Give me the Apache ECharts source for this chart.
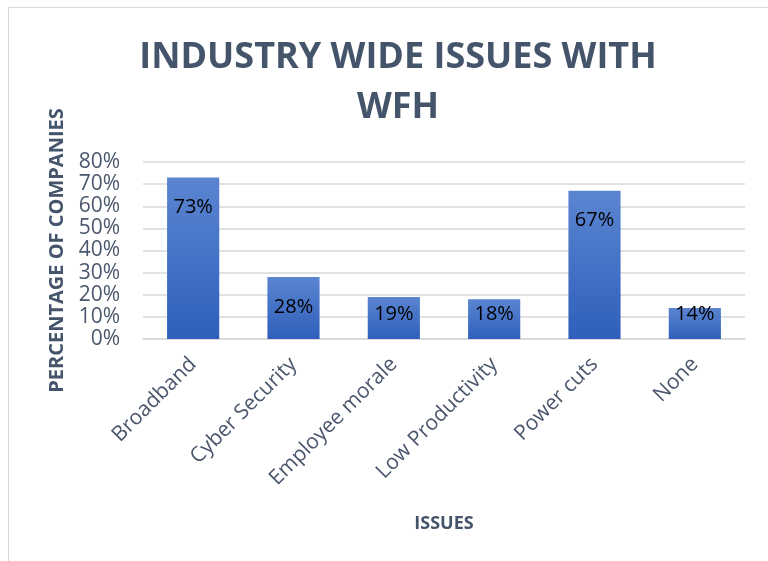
<!DOCTYPE html>
<html>
<head>
<meta charset="utf-8">
<script src="https://cdn.jsdelivr.net/npm/echarts@6/dist/echarts.min.js"></script>
<style>
  html, body { margin: 0; padding: 0; background: #fff; }
  #frame { position: absolute; left: 8px; top: 7px; width: 780px; height: 560px; border: 1px solid #d9d9d9; box-sizing: border-box; }
  #chart { width: 768px; height: 561px; position: absolute; left: 0; top: 0; }
</style>
</head>
<body>
<div id="frame"></div>
<div id="chart"></div>
<script>
  const categories = ["Broadband", "Cyber Security", "Employee morale", "Low Productivity", "Power cuts", "None"];
  const values = [73, 28, 19, 18, 67, 14];
  const yTicks = [0, 10, 20, 30, 40, 50, 60, 70, 80];

  const font = "Open Sans, Noto Sans, sans-serif";
  const chart = echarts.init(document.getElementById("chart"));

  const gridTop = 162, gridBottom = 222;
  const plotH = 561 - gridTop - gridBottom;
  const yMax = yTicks[yTicks.length - 1];
  // label sits ~18px inside the bar top, but never lower than ~25px above the axis
  const labelDistance = (v) => Math.min(20, v * plotH / yMax - 35);

  chart.setOption({
    animation: false,
    title: {
      text: "INDUSTRY WIDE ISSUES WITH\nWFH",
      left: 393,
      top: 28,
      textAlign: "center",
      textStyle: { fontFamily: font, fontWeight: "bold", fontSize: 36, color: "#44546A", lineHeight: 50 }
    },
    grid: { left: 143, right: 23, top: gridTop, bottom: gridBottom },
    xAxis: {
      type: "category",
      data: categories,
      name: "ISSUES",
      nameLocation: "middle",
      nameGap: 176,
      nameTextStyle: { fontFamily: font, fontWeight: "bold", fontSize: 18, color: "#44546A" },
      axisLine: { lineStyle: { color: "#d9d9d9", width: 1.5 } },
      axisTick: { show: false },
      axisLabel: { rotate: 45, fontFamily: font, fontSize: 21, color: "#4a576c", margin: 22 }
    },
    yAxis: {
      type: "value",
      min: yTicks[0],
      max: yMax,
      interval: 10,
      name: "PERCENTAGE OF COMPANIES",
      nameLocation: "middle",
      nameGap: 70,
      nameRotate: 90,
      nameTextStyle: { fontFamily: font, fontWeight: "bold", fontSize: 20, color: "#44546A" },
      axisLine: { show: false },
      axisTick: { show: false },
      axisLabel: { formatter: "{value}%", fontFamily: font, fontSize: 21, color: "#4a576c", margin: 23 },
      splitLine: { lineStyle: { color: "#d9d9d9", width: 1.5 } }
    },
    series: [{
      type: "bar",
      data: values.map((v) => ({ value: v, label: { distance: labelDistance(v) } })),
      barWidth: "52%",
      itemStyle: {
        color: new echarts.graphic.LinearGradient(0, 0, 0, 1, [
          { offset: 0, color: "#5b85d1" },
          { offset: 1, color: "#2f5fbb" }
        ])
      },
      label: {
        show: true,
        position: "insideTop",
        formatter: "{c}%",
        fontFamily: font,
        fontSize: 20,
        color: "#000"
      }
    }]
  });
</script>
</body>
</html>
